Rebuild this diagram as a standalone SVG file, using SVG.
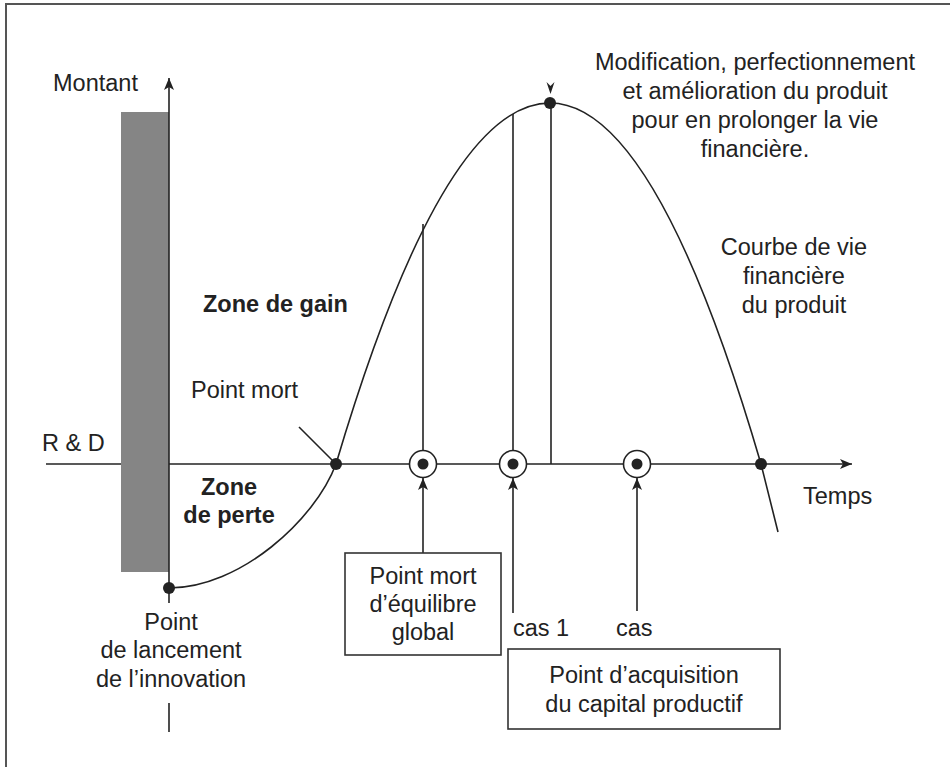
<svg xmlns="http://www.w3.org/2000/svg" width="950" height="767" viewBox="0 0 950 767">
<style>
text{font-family:"Liberation Sans",Arial,sans-serif;font-size:23.5px;fill:#222}
.b{font-weight:bold}
.m{text-anchor:middle}
.ln{stroke:#222;stroke-width:1.6;fill:none}
.dot{fill:#222}
.ring{fill:#fff;stroke:#222;stroke-width:1.6}
.box{fill:#fff;stroke:#333;stroke-width:1.6}
</style>
<defs>
<marker id="ah" viewBox="0 0 12 10" refX="12" refY="5" markerWidth="12" markerHeight="10" markerUnits="userSpaceOnUse" orient="auto">
<path d="M0,0 L12,5 L0,10 L3,5 Z" fill="#222"/>
</marker>
</defs>
<rect width="950" height="767" fill="#fff"/>
<g id="frame"><path d="M6,767 V4 H950" fill="none" stroke="#555" stroke-width="2"/></g>
<g id="rd-bar"><rect x="121" y="112" width="48" height="460" fill="#858585"/></g>
<g id="connectors">
<line class="ln" x1="169" y1="603" x2="169" y2="78" marker-end="url(#ah)"/>
<line class="ln" x1="46" y1="464" x2="121" y2="464"/>
<line class="ln" x1="169" y1="464" x2="852" y2="464" marker-end="url(#ah)"/>
<line class="ln" x1="169" y1="703" x2="169" y2="732"/>
<path class="ln" d="M169,588 C240,588 315,520 336,464 Q443,103 550,103 Q655.5,103 761,464 L778,532"/>
<line class="ln" x1="299" y1="427" x2="333" y2="461"/>
<line class="ln" x1="423" y1="224" x2="423" y2="464"/>
<line class="ln" x1="513" y1="114" x2="513" y2="464"/>
<line class="ln" x1="551" y1="103" x2="551" y2="464"/>
<line class="ln" x1="423" y1="553" x2="423" y2="478" marker-end="url(#ah)"/>
<line class="ln" x1="513" y1="613" x2="513" y2="478" marker-end="url(#ah)"/>
<line class="ln" x1="637" y1="611" x2="637" y2="478" marker-end="url(#ah)"/>
<path d="M546.5,82 L550.5,94 L554.5,82 L550.5,86 Z" fill="#222"/>
</g>
<g id="points">
<circle class="dot" cx="169" cy="588" r="6"/>
<circle class="dot" cx="336" cy="464" r="6"/>
<circle class="dot" cx="761" cy="464" r="6"/>
<circle class="dot" cx="550" cy="103" r="6"/>
<circle class="ring" cx="423" cy="464" r="13.5"/><circle class="dot" cx="423" cy="464" r="5.5"/>
<circle class="ring" cx="513" cy="464" r="13.5"/><circle class="dot" cx="513" cy="464" r="5.5"/>
<circle class="ring" cx="637" cy="464" r="13.5"/><circle class="dot" cx="637" cy="464" r="5.5"/>
</g>
<g id="labels">
<text x="53" y="91">Montant</text>
<text x="42" y="451">R &amp; D</text>
<text x="191" y="398">Point mort</text>
<text class="b" x="203" y="312">Zone de gain</text>
<text class="b m" x="229" y="495">Zone</text>
<text class="b m" x="229" y="523">de perte</text>
<text class="m" x="171" y="630">Point</text>
<text class="m" x="171" y="658">de lancement</text>
<text class="m" x="171" y="687">de l’innovation</text>
<text class="m" x="755" y="70">Modification, perfectionnement</text>
<text class="m" x="755" y="99">et amélioration du produit</text>
<text class="m" x="755" y="128">pour en prolonger la vie</text>
<text class="m" x="755" y="157">financière.</text>
<text class="m" x="794" y="255">Courbe de vie</text>
<text class="m" x="794" y="284">financière</text>
<text class="m" x="794" y="313">du produit</text>
<text x="803" y="504">Temps</text>
<text x="513" y="636">cas 1</text>
<text x="616" y="636">cas</text>
</g>
<g id="box-equilibre">
<rect class="box" x="345" y="553" width="156" height="102"/>
<text class="m" x="423" y="584">Point mort</text>
<text class="m" x="423" y="612">d’équilibre</text>
<text class="m" x="423" y="640">global</text>
</g>
<g id="box-acquisition">
<rect class="box" x="508" y="649" width="272" height="80"/>
<text class="m" x="644" y="683">Point d’acquisition</text>
<text class="m" x="644" y="712">du capital productif</text>
</g>
</svg>
